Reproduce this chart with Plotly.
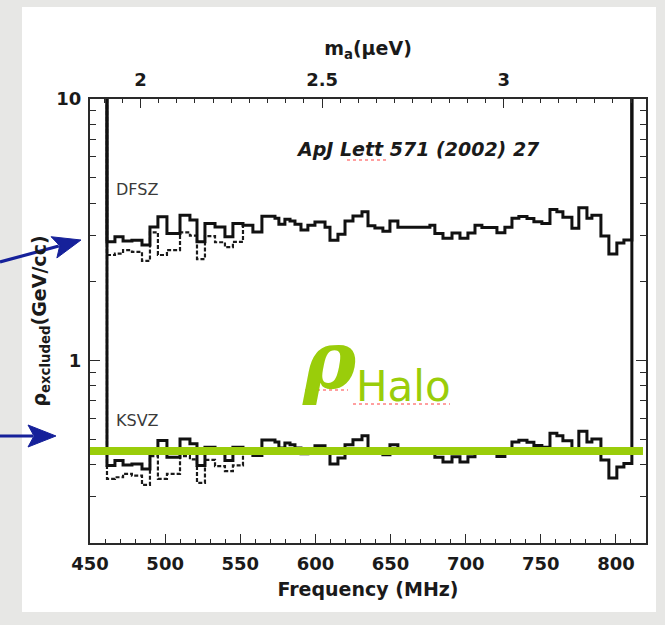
import math
import plotly.graph_objects as go

# ---------------- data ----------------
freq_edges_mhz = [461.3, 466.6, 472.0, 477.9, 484.6, 489.9, 495.2, 501.2, 509.9, 516.5,
                  521.2, 526.5, 533.2, 539.8, 545.1, 551.8, 558.4, 564.4, 573.1, 575.7,
                  579.7, 583.1, 586.4, 590.4, 595.0, 599.7, 606.4, 609.7, 615.0, 619.7,
                  625.0, 631.0, 635.0, 639.6, 644.9, 649.6, 654.9, 676.2, 679.5, 684.9,
                  690.9, 696.2, 701.5, 706.2, 710.8, 720.8, 726.1, 730.8, 735.4, 740.8,
                  745.4, 750.7, 756.1, 760.7, 764.7, 770.7, 775.3, 780.7, 784.0, 790.0,
                  795.3, 800.6, 805.3, 810.6]

dfsz_solid = [2.84, 2.97, 2.86, 2.88, 2.76, 3.24, 3.54, 3.06, 3.59, 3.44,
              2.84, 3.34, 3.24, 2.97, 3.34, 3.29, 3.10, 3.56, 3.50, 3.32,
              3.47, 3.41, 3.32, 3.15, 3.29, 3.38, 3.23, 2.88, 3.04, 3.41,
              3.57, 3.70, 3.27, 3.21, 3.12, 3.41, 3.23, 3.29, 3.06, 2.93,
              3.07, 2.93, 3.07, 3.29, 3.22, 3.08, 3.23, 3.50, 3.55, 3.49,
              3.39, 3.34, 3.78, 3.70, 3.53, 3.20, 3.84, 3.50, 3.59, 2.99,
              2.55, 2.81, 2.89]

dfsz_dashed = [2.53, 2.56, 2.64, 2.60, 2.40, 3.09, 2.53, 2.64, 3.09, 3.00,
               2.44, 2.99, 2.83, 2.71, 2.84]

ksvz_solid = [0.396, 0.414, 0.398, 0.401, 0.384, 0.451, 0.493, 0.426, 0.500, 0.479,
              0.396, 0.465, 0.451, 0.414, 0.465, 0.458, 0.432, 0.496, 0.487, 0.462,
              0.483, 0.475, 0.462, 0.439, 0.458, 0.471, 0.450, 0.401, 0.423, 0.475,
              0.497, 0.515, 0.455, 0.447, 0.435, 0.475, 0.450, 0.458, 0.426, 0.408,
              0.428, 0.408, 0.428, 0.458, 0.448, 0.429, 0.450, 0.487, 0.494, 0.486,
              0.472, 0.465, 0.526, 0.515, 0.492, 0.446, 0.535, 0.487, 0.500, 0.416,
              0.355, 0.391, 0.403]

ksvz_dashed = [0.352, 0.357, 0.368, 0.362, 0.334, 0.430, 0.352, 0.368, 0.430, 0.418,
               0.340, 0.416, 0.394, 0.377, 0.396]

rho_halo = 0.45
halo_line_freq = [450, 818]

freq_range = [450, 820]
rho_range = [0.2, 10]
mhz_to_uev = 0.0041357

y_major_vals = [1, 10]
y_major_text = ["1", "10"]
y_minor_vals = [0.2, 0.3, 0.4, 0.5, 0.6, 0.7, 0.8, 0.9, 2, 3, 4, 5, 6, 7, 8, 9]

# ---------------- helpers ----------------
W, H = 665, 625
PL, PR, PT, PB = 90, 646, 99, 543   # plot frame in pixels


def px_x(px):
    return (px - PL) / (PR - PL)


def px_y(py):
    return (PB - py) / (PB - PT)


def solid_step(edges, vals, top):
    n = len(vals)
    xs = [edges[0]] + list(edges[:n]) + [edges[n], edges[n]]
    ys = [top] + list(vals) + [vals[-1], top]
    return xs, ys


def dashed_step(edges, vals, solid_vals, top):
    m = len(vals)
    xs = [edges[0]] + list(edges[:m]) + [edges[m]]
    ys = [top] + list(vals) + [solid_vals[m]]
    return xs, ys


top = rho_range[1]
fig = go.Figure()

for series_solid, series_dash in [(dfsz_solid, dfsz_dashed), (ksvz_solid, ksvz_dashed)]:
    xd, yd = dashed_step(freq_edges_mhz, series_dash, series_solid, top)
    fig.add_trace(go.Scatter(x=xd, y=yd, mode="lines", line_shape="hv",
                             line=dict(color="#1a1a1a", width=2.2, dash="4px,2px"),
                             showlegend=False, hoverinfo="skip"))
    xs, ys = solid_step(freq_edges_mhz, series_solid, top)
    fig.add_trace(go.Scatter(x=xs, y=ys, mode="lines", line_shape="hv",
                             line=dict(color="#111111", width=3),
                             showlegend=False, hoverinfo="skip"))

# green halo density line
fig.add_trace(go.Scatter(x=halo_line_freq, y=[rho_halo, rho_halo], mode="lines",
                         line=dict(color="#9acd0a", width=8),
                         showlegend=False, hoverinfo="skip"))

# dummy trace for the top (mass) axis
fig.add_trace(go.Scatter(x=[freq_range[0] * mhz_to_uev], y=[1], xaxis="x2", mode="markers",
                         marker=dict(size=0.1, opacity=0), showlegend=False, hoverinfo="skip"))

tick_font = dict(family="DejaVu Sans", size=18, color="#1a1a1a", weight="bold")
title_font = dict(family="DejaVu Sans", size=19, color="#1a1a1a", weight="bold")
frame_col = "#2a2a2a"

fig.update_layout(
    width=W, height=H,
    margin=dict(l=PL, r=W - PR, t=PT, b=H - PB),
    paper_bgcolor="#e7e7e5",
    plot_bgcolor="white",
    showlegend=False,
    xaxis=dict(
        range=freq_range, showgrid=False, zeroline=False,
        showline=True, linecolor=frame_col, linewidth=2, mirror=True,
        ticks="inside", ticklen=9, tickwidth=1.2, tickcolor=frame_col,
        tickmode="linear", tick0=450, dtick=50,
        minor=dict(ticks="inside", ticklen=4, tickwidth=1, tickcolor=frame_col, dtick=10, tick0=450),
        tickfont=tick_font, ticklabelstandoff=3,
        title=dict(text="Frequency (MHz)", font=title_font, standoff=10),
    ),
    xaxis2=dict(
        overlaying="x", side="top", anchor="y",
        range=[freq_range[0] * mhz_to_uev, freq_range[1] * mhz_to_uev],
        showgrid=False, zeroline=False, showline=True, linecolor=frame_col, linewidth=2,
        ticks="inside", ticklen=9, tickwidth=1.2, tickcolor=frame_col,
        tickmode="linear", tick0=0, dtick=0.5,
        minor=dict(ticks="inside", ticklen=4, tickwidth=1, tickcolor=frame_col, dtick=0.05, tick0=0),
        tickfont=tick_font, ticklabelstandoff=4,
        title=dict(text="m<sub>a</sub>(μeV)", font=title_font, standoff=8),
    ),
    yaxis=dict(
        type="log", range=[math.log10(rho_range[0]), math.log10(rho_range[1])],
        showgrid=False, zeroline=False,
        showline=True, linecolor=frame_col, linewidth=2, mirror="ticks",
        ticks="inside", ticklen=10, tickwidth=1.2, tickcolor=frame_col,
        tickmode="array", tickvals=y_major_vals, ticktext=y_major_text,
        minor=dict(ticks="inside", ticklen=6, tickwidth=1, tickcolor=frame_col,
                   tickmode="array", tickvals=y_minor_vals),
        tickfont=tick_font, ticklabelstandoff=3,
        title=dict(text="ρ<sub>excluded</sub>(GeV/cc)", font=title_font, standoff=5),
    ),
)

# white slide panel behind the chart
fig.add_shape(type="rect", xref="paper", yref="paper",
              x0=px_x(22), x1=px_x(656), y0=px_y(612), y1=px_y(7),
              fillcolor="white", line=dict(width=0), layer="below")

annos = [
    dict(text="<b><i>ApJ Lett 571 (2002) 27</i></b>", x=px_x(418), y=px_y(149),
         font=dict(family="DejaVu Sans", size=19, color="#1a1a1a")),
    dict(text="DFSZ", x=px_x(114), y=px_y(189), xanchor="left",
         font=dict(family="DejaVu Sans", size=16, color="#3a3a3a")),
    dict(text="KSVZ", x=px_x(114), y=px_y(421), xanchor="left",
         font=dict(family="DejaVu Sans", size=16, color="#3a3a3a")),
    dict(text="<b><i>ρ</i></b>", x=px_x(329), y=px_y(360),
         font=dict(family="DejaVu Serif", size=80, color="#9acd0a")),
    dict(text="Halo", x=px_x(354), y=px_y(386), xanchor="left",
         font=dict(family="DejaVu Sans", size=42, color="#9acd0a")),
]
for a in annos:
    a.setdefault("xanchor", "center")
    fig.add_annotation(xref="paper", yref="paper", showarrow=False, yanchor="middle", **a)

# blue arrows (drawn as shapes: shaft + filled head), pixel positions on the slide
arrow_col = "#16219a"
arrows_px = [((0, 262), (81, 240)), ((0, 436), (56, 436))]
head_len, head_half = 25, 11
for (tx, ty), (hx, hy) in arrows_px:
    dx, dy = hx - tx, hy - ty
    L = math.hypot(dx, dy)
    ux, uy = dx / L, dy / L
    bx, by = hx - head_len * ux, hy - head_len * uy
    nx, ny = -uy, ux
    fig.add_shape(type="line", xref="paper", yref="paper",
                  x0=px_x(tx), y0=px_y(ty), x1=px_x(bx + 2 * ux), y1=px_y(by + 2 * uy),
                  line=dict(color=arrow_col, width=3.2))
    c1 = (bx - 3 * ux + head_half * nx, by - 3 * uy + head_half * ny)
    c2 = (bx - 3 * ux - head_half * nx, by - 3 * uy - head_half * ny)
    path = "M {:.4f} {:.4f} L {:.4f} {:.4f} L {:.4f} {:.4f} L {:.4f} {:.4f} Z".format(
        px_x(hx), px_y(hy), px_x(c1[0]), px_y(c1[1]),
        px_x(bx + 3 * ux), px_y(by + 3 * uy), px_x(c2[0]), px_y(c2[1]))
    fig.add_shape(type="path", xref="paper", yref="paper", path=path,
                  fillcolor=arrow_col, line=dict(color=arrow_col, width=1))

# spell-check squiggles from the slide
for x0, x1, yy in [(347, 388, 160), (305, 348, 390), (353, 450, 404)]:
    fig.add_shape(type="line", xref="paper", yref="paper",
                  x0=px_x(x0), x1=px_x(x1), y0=px_y(yy), y1=px_y(yy),
                  line=dict(color="#ff4040", width=1.2, dash="dot"))

fig.write_html("out.html",
               config={"displayModeBar": False},
               post_script="document.body.style.margin='0px';"
                           "document.body.style.background='#e7e7e5';")
